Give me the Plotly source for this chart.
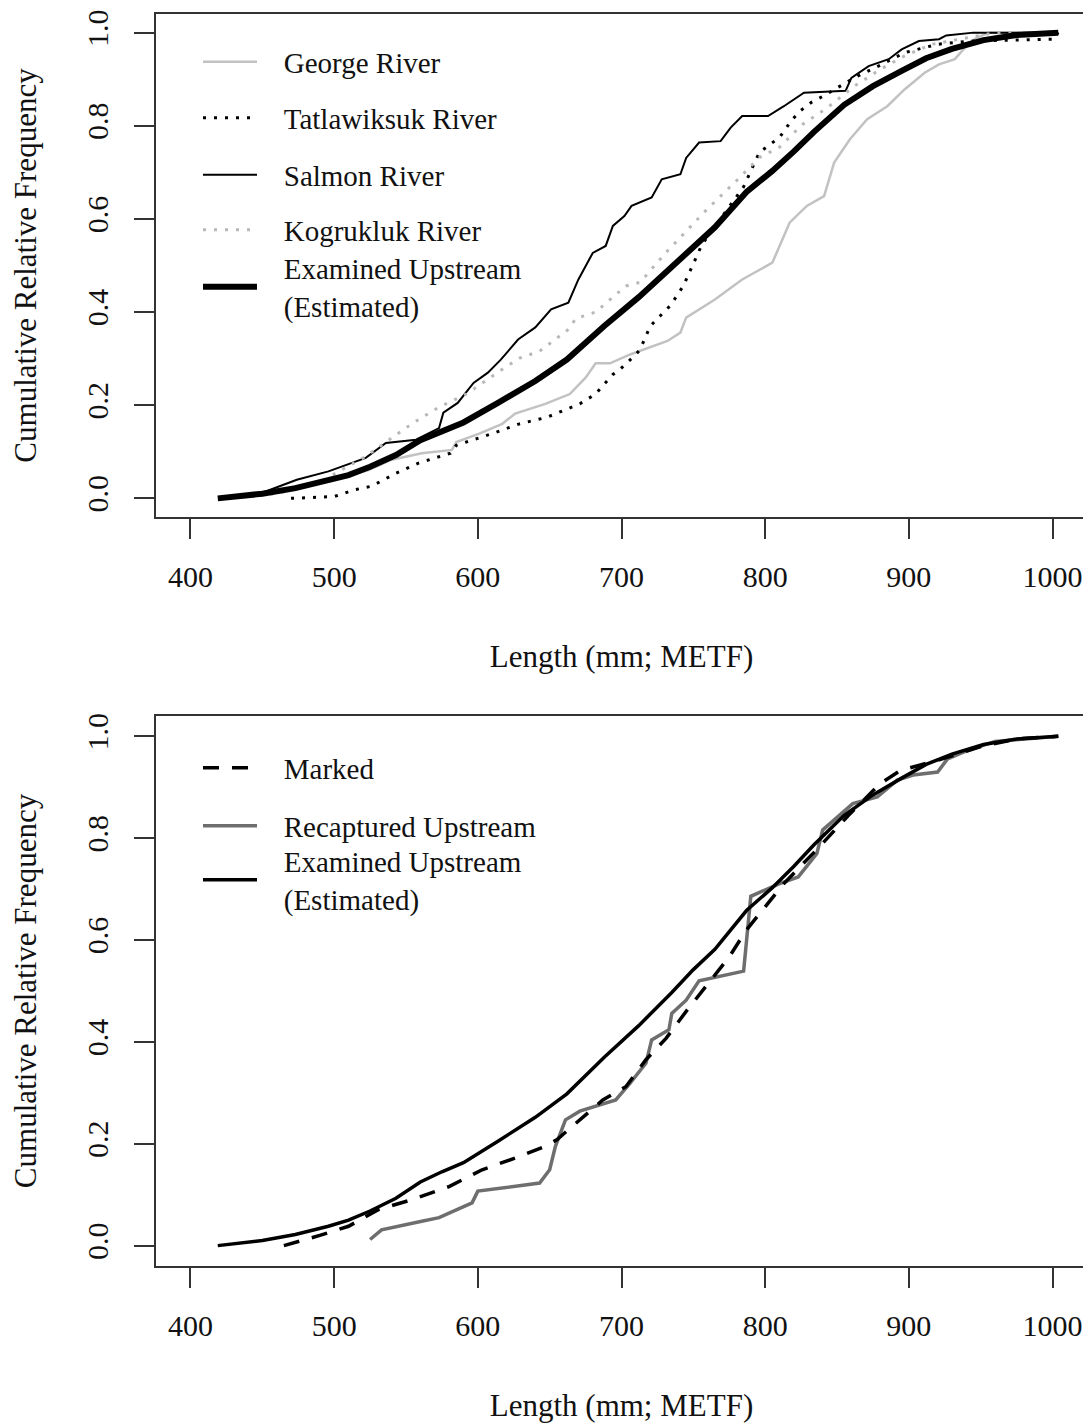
import plotly.graph_objects as go

# ---------------- data ----------------
george_len = [420, 450, 480, 505, 524, 540, 561, 582, 585, 601, 617, 626, 647, 664, 675, 682, 692, 706, 732, 741, 745,
              765, 784, 805, 817, 829, 841, 848, 859, 871, 885, 897, 911, 921, 932, 940, 947, 956, 1004]
george_cdf = [0, 0.01, 0.03, 0.045, 0.061, 0.083, 0.097, 0.104, 0.121, 0.139, 0.160, 0.182, 0.203, 0.224, 0.259,
              0.290, 0.290, 0.309, 0.338, 0.356, 0.388, 0.427, 0.470, 0.506, 0.592, 0.628, 0.649, 0.721, 0.771,
              0.814, 0.842, 0.878, 0.914, 0.932, 0.943, 0.971, 0.989, 1.0, 1.0]

tatla_len = [470, 500, 515, 526, 543, 559, 581, 585, 610, 629, 648, 671, 682, 694, 699, 710, 713, 720, 727, 734, 743,
             750, 756, 785, 792, 796, 810, 818, 824, 832, 840, 862, 880, 897, 920, 944, 1000, 1004]
tatla_cdf = [0, 0.004, 0.019, 0.026, 0.054, 0.076, 0.097, 0.114, 0.139, 0.160, 0.174, 0.203, 0.224, 0.266, 0.277,
             0.309, 0.320, 0.370, 0.392, 0.414, 0.456, 0.506, 0.545, 0.669, 0.718, 0.743, 0.775, 0.810, 0.831,
             0.850, 0.863, 0.903, 0.930, 0.957, 0.975, 0.982, 0.986, 1.0]

salmon_len = [420, 450, 474, 496, 522, 536, 557, 573, 576, 586, 597, 607, 616, 628, 640, 651, 663, 670, 680, 689, 694,
              702, 707, 721, 728, 741, 745, 754, 769, 776, 784, 802, 813, 827, 856, 860, 872, 886, 895, 907, 921,
              926, 945, 1004]
salmon_cdf = [0, 0.012, 0.040, 0.058, 0.087, 0.119, 0.126, 0.151, 0.184, 0.205, 0.248, 0.270, 0.298, 0.341, 0.367,
              0.406, 0.420, 0.470, 0.527, 0.542, 0.585, 0.606, 0.628, 0.646, 0.685, 0.696, 0.731, 0.764, 0.767,
              0.796, 0.821, 0.821, 0.842, 0.871, 0.875, 0.903, 0.928, 0.943, 0.964, 0.982, 0.986, 0.994, 1.0, 1.0]

kogru_len = [425, 460, 490, 505, 522, 536, 554, 573, 592, 615, 629, 643, 664, 668, 682, 703, 713, 731, 759, 780, 796,
             810, 826, 843, 862, 880, 897, 916, 935, 960, 1004]
kogru_cdf = [0, 0.01, 0.035, 0.06, 0.090, 0.121, 0.160, 0.196, 0.224, 0.273, 0.301, 0.316, 0.365, 0.386, 0.400,
             0.456, 0.464, 0.528, 0.619, 0.682, 0.732, 0.754, 0.803, 0.838, 0.885, 0.921, 0.950, 0.975, 0.986,
             1.0, 1.0]

exam_len = [419, 450, 473, 496, 510, 525, 543, 560, 575, 590, 614, 640, 662, 688, 712, 735, 750, 765, 787, 805, 820,
            834, 855, 875, 895, 912, 930, 952, 975, 1004]
exam_cdf = [0, 0.01, 0.022, 0.038, 0.050, 0.068, 0.093, 0.125, 0.145, 0.163, 0.205, 0.252, 0.298, 0.370, 0.432,
            0.497, 0.542, 0.582, 0.658, 0.703, 0.745, 0.787, 0.845, 0.885, 0.918, 0.945, 0.965, 0.984, 0.995, 1.0]

marked_len = [465, 490, 510, 531, 554, 580, 603, 626, 647, 655, 687, 703, 717, 731, 745, 775, 787, 801, 813, 835,
              858, 880, 894, 920, 950, 975, 1004]
marked_cdf = [0, 0.02, 0.038, 0.071, 0.090, 0.116, 0.149, 0.172, 0.195, 0.208, 0.286, 0.312, 0.365, 0.407, 0.46,
              0.567, 0.620, 0.669, 0.711, 0.775, 0.845, 0.907, 0.933, 0.953, 0.98, 0.995, 1.0]

recap_len = [525, 533, 561, 573, 596, 600, 643, 650, 654, 661, 671, 696, 706, 717, 721, 733, 735, 745, 754, 785, 790,
             810, 823, 836, 840, 861, 878, 892, 903, 920, 927, 938, 960, 1004]
recap_cdf = [0.012, 0.031, 0.048, 0.055, 0.084, 0.107, 0.123, 0.149, 0.195, 0.247, 0.264, 0.286, 0.319, 0.358,
             0.404, 0.424, 0.456, 0.482, 0.52, 0.539, 0.686, 0.711, 0.724, 0.770, 0.816, 0.868, 0.881, 0.914,
             0.924, 0.930, 0.956, 0.969, 0.99, 1.0]

x_ticks = [400, 500, 600, 700, 800, 900, 1000]
y_ticks = [0.0, 0.2, 0.4, 0.6, 0.8, 1.0]
y_tick_text = ["0.0", "0.2", "0.4", "0.6", "0.8", "1.0"]
x_title = "Length (mm; METF)"
y_title = "Cumulative Relative Frequency"

# ---------------- figure ----------------
FONT = "Liberation Serif, Times New Roman, serif"
OFF = 8                      # page body margin in the browser
W, H = 1091 - OFF, 1424 - OFF
ML, MR, MT, MB = 156 - OFF, 4, 6, 1424 - 1266
PW, PH = W - ML - MR, H - MT - MB
PAD = "\u00a0\u00a0\u00a0"  # gap between legend key and label


def py(page_y):  # page pixel row -> paper y
    return (H - MB - (page_y - OFF)) / PH


def px(page_x):  # page pixel column -> paper x
    return (page_x - OFF - ML) / PW


def lab(text):
    return "<br>".join(PAD + t for t in text.split("<br>"))


fig = go.Figure()

top = [
    ("George River", george_len, george_cdf, dict(color="#c2c2c2", width=2.5), "legend"),
    ("Tatlawiksuk River", tatla_len, tatla_cdf, dict(color="black", width=3, dash="3px,8px"), "legend2"),
    ("Salmon River", salmon_len, salmon_cdf, dict(color="black", width=2), "legend3"),
    ("Kogrukluk River", kogru_len, kogru_cdf, dict(color="#b8b8b8", width=3, dash="3px,8px"), "legend4"),
    ("Examined Upstream<br>(Estimated)", exam_len, exam_cdf, dict(color="black", width=6), "legend5"),
]
for name, xs, ys, line, lg in top:
    fig.add_trace(go.Scatter(x=xs, y=ys, mode="lines", name=lab(name), line=line, legend=lg,
                             xaxis="x", yaxis="y"))

bottom = [
    ("Recaptured Upstream", recap_len, recap_cdf, dict(color="#6e6e6e", width=3.5), "legend7"),
    ("Examined Upstream<br>(Estimated)", exam_len, exam_cdf, dict(color="black", width=3.5), "legend8"),
    ("Marked", marked_len, marked_cdf, dict(color="black", width=3.5, dash="16px,13px"), "legend6"),
]
for name, xs, ys, line, lg in bottom:
    fig.add_trace(go.Scatter(x=xs, y=ys, mode="lines", name=lab(name), line=line, legend=lg,
                             xaxis="x2", yaxis="y2"))

axis_common = dict(showline=True, mirror=True, linecolor="#333", linewidth=1.5, ticks="outside",
                   ticklen=20, tickwidth=1.5, tickcolor="#333", showgrid=False, zeroline=False,
                   automargin=False, ticklabeloverflow="allow",
                   tickfont=dict(family=FONT, size=30, color="#111"))
xa = dict(axis_common, range=[376, 1024], tickvals=x_ticks, ticklabelstandoff=12,
          title=dict(text=x_title, font=dict(family=FONT, size=31, color="#111"), standoff=54))
ya = dict(axis_common, range=[-0.04, 1.04], tickvals=y_ticks, ticktext=y_tick_text, tickangle=-90,
          ticklabelstandoff=14,
          title=dict(text=y_title, font=dict(family=FONT, size=31, color="#111"), standoff=42))

legend_common = dict(xanchor="left", yanchor="middle", bgcolor="rgba(0,0,0,0)", borderwidth=0,
                     font=dict(family=FONT, size=29, color="#111"), itemwidth=54)
leg_x = px(198)
legends = {
    "legend": py(62), "legend2": py(118), "legend3": py(175), "legend4": py(230), "legend5": py(287),
    "legend6": py(768), "legend7": py(826), "legend8": py(880),
}
layout_leg = {k: dict(legend_common, x=leg_x, y=v) for k, v in legends.items()}

fig.update_layout(
    width=W, height=H, margin=dict(l=ML, r=MR, t=MT, b=MB, autoexpand=False),
    paper_bgcolor="white", plot_bgcolor="white", showlegend=True,
    xaxis=dict(xa, domain=[0, 1], anchor="y"),
    yaxis=dict(ya, domain=[py(517), 1], anchor="x"),
    xaxis2=dict(xa, domain=[0, 1], anchor="y2"),
    yaxis2=dict(ya, domain=[0, py(716)], anchor="x2"),
    **layout_leg,
)

fig.write_html("out.html")
